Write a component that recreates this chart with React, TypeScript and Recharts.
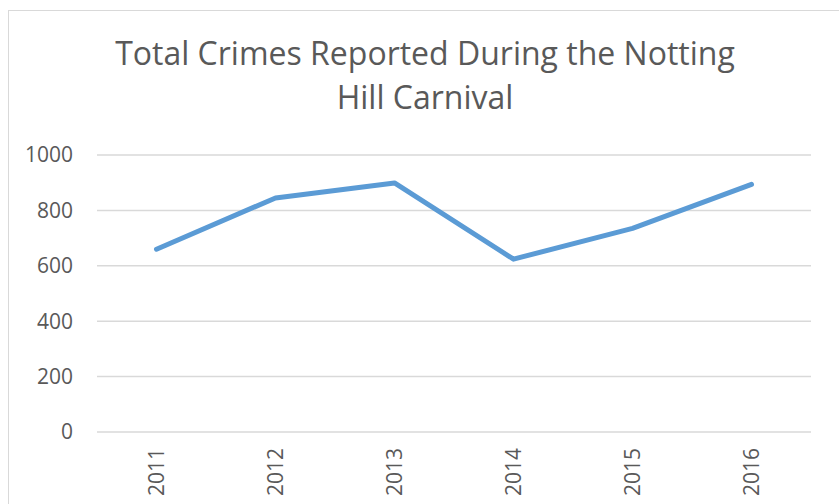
import React from 'react';
import { LineChart, Line, XAxis, YAxis, CartesianGrid } from 'recharts';

const years = ['2011', '2012', '2013', '2014', '2015', '2016'];
const totalCrimes = [660, 845, 899, 624, 735, 894];
const yTicks = [0, 200, 400, 600, 800, 1000];

const chartData = years.map((year, i) => ({ year, crimes: totalCrimes[i] }));

const FONT = '"Open Sans", "Liberation Sans", sans-serif';
const TEXT_COLOR = '#595959';

// Excel-style rotated category labels
const YearTick = ({ x, y, payload }: any) => (
  <text
    x={x}
    y={y}
    transform={`rotate(-90, ${x}, ${y})`}
    textAnchor="end"
    dy="0.36em"
    fill={TEXT_COLOR}
    fontSize={21}
    fontFamily={FONT}
  >
    {payload.value}
  </text>
);

export default function App() {
  return (
    <div style={{ position: 'absolute', left: 0, top: 0, width: 839, height: 504, overflow: 'hidden', background: '#fff' }}>
      <div
        style={{
          position: 'absolute',
          left: 8,
          top: 10,
          width: 900,
          height: 600,
          border: '1px solid #d9d9d9'
        }}
      />
      <div
        style={{
          position: 'absolute',
          left: 25,
          top: 31,
          width: 800,
          textAlign: 'center',
          fontFamily: FONT,
          fontSize: 32,
          lineHeight: '44px',
          color: TEXT_COLOR
        }}
      >
        Total Crimes Reported During the Notting
        <br />
        Hill Carnival
      </div>
      <div style={{ position: 'absolute', left: 0, top: 0 }}>
        <LineChart
          width={839}
          height={504}
          data={chartData}
          margin={{ top: 155, right: 28, bottom: 12, left: 37 }}
        >
          <CartesianGrid vertical={false} stroke="#d9d9d9" strokeWidth={1.5} />
          <XAxis
            dataKey="year"
            axisLine={false}
            tickLine={false}
            height={60}
            tickSize={0}
            tickMargin={16}
            interval={0}
            padding={{ left: 59.5, right: 59.5 }}
            tick={<YearTick />}
          />
          <YAxis
            domain={[0, 1000]}
            ticks={yTicks}
            axisLine={false}
            tickLine={false}
            width={60}
            tickSize={0}
            tickMargin={24}
            tick={{ fill: TEXT_COLOR, fontSize: 21, fontFamily: FONT }}
          />
          <Line
            type="linear"
            dataKey="crimes"
            stroke="#5b9bd5"
            strokeWidth={5}
            strokeLinecap="round"
            strokeLinejoin="round"
            dot={false}
            activeDot={false}
            isAnimationActive={false}
          />
        </LineChart>
      </div>
    </div>
  );
}
